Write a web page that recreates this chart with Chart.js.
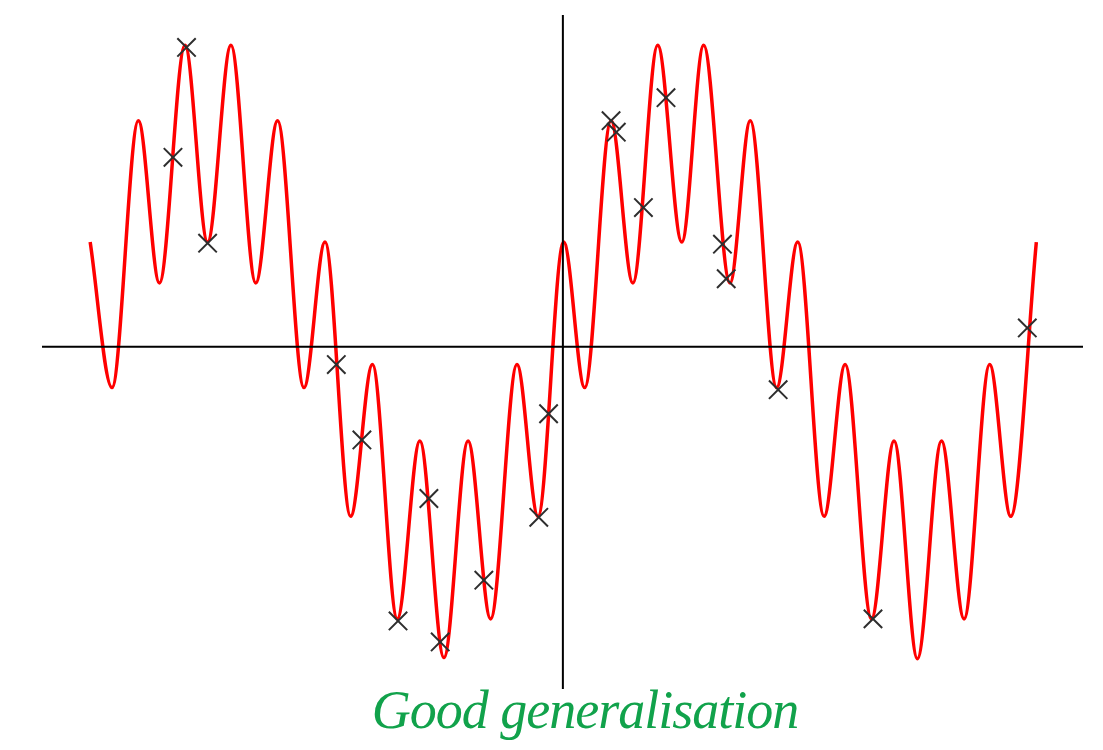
<!DOCTYPE html>
<html>
<head>
<meta charset="utf-8">
<title>Good generalisation</title>
<script src="https://cdn.jsdelivr.net/npm/chart.js@4/dist/chart.umd.min.js"></script>
<style>
  html, body { margin: 0; padding: 0; background: #fff; }
  #wrap { position: relative; width: 1103px; height: 750px; }
  #caption {
    position: absolute; left: 285px; width: 600px; top: 683px;
    text-align: center; font: italic 54px/54px "Liberation Serif", "DejaVu Serif", serif;
    letter-spacing: -1px; color: #11a24b; white-space: nowrap;
  }
</style>
</head>
<body>
<div id="wrap">
  <canvas id="chart"></canvas>
  <div id="caption">Good generalisation</div>
</div>
<script>
// curve: turning points of the red line
const curveX = [-6.28, -5.99, -5.64, -5.36, -5.02, -4.72, -4.41, -4.08, -3.79, -3.44,
                -3.16, -2.82, -2.53, -2.20, -1.90, -1.58, -1.26, -0.96, -0.61, -0.33,
                 0.01,  0.29,  0.64,  0.93,  1.26,  1.58,  1.87,  2.22,  2.49,  2.84,
                 3.12,  3.47,  3.75,  4.10,  4.40,  4.71,  5.03,  5.33,  5.67,  5.95, 6.29];
const curveY = [ 1.00, -0.39,  2.16,  0.61,  2.88,  1.00,  2.88,  0.61,  2.16, -0.39,
                 1.00, -1.62, -0.17, -2.60, -0.90, -2.97, -0.90, -2.60, -0.17, -1.62,
                 1.00, -0.39,  2.16,  0.61,  2.88,  1.00,  2.88,  0.61,  2.16, -0.39,
                 1.00, -1.62, -0.17, -2.60, -0.90, -2.98, -0.90, -2.60, -0.17, -1.62, 1.00];

// training samples (the crosses)
const sampleX = [-5.00, -5.18, -4.72, -3.01, -2.67, -2.19, -1.78, -1.63, -1.05, -0.32,
                 -0.19,  0.64,  0.71,  1.07,  1.37,  2.12,  2.17,  2.86,  4.12,  6.17];
const sampleY = [ 2.86,  1.81,  0.99, -0.17, -0.89, -2.62, -1.45, -2.82, -2.23, -1.63,
                 -0.64,  2.16,  2.05,  1.33,  2.38,  0.98,  0.65, -0.41, -2.60,  0.18];

// axis limits
const xMin = -6.92, xMax = 6.91;
const yMin = -3.27, yMax = 3.17;

const toPoints = (xs, ys) => xs.map((x, i) => ({ x: x, y: ys[i] }));

// axes crossing at the origin, drawn on top of the curve
const originAxes = {
    id: 'originAxes',
    afterDatasetsDraw(chart) {
        const { ctx, chartArea, scales } = chart;
        const x0 = scales.x.getPixelForValue(0);
        const y0 = scales.y.getPixelForValue(0);
        ctx.save();
        ctx.strokeStyle = '#000';
        ctx.lineWidth = 2;
        ctx.beginPath();
        ctx.moveTo(chartArea.left, y0);
        ctx.lineTo(chartArea.right, y0);
        ctx.moveTo(x0, chartArea.top);
        ctx.lineTo(x0, chartArea.bottom);
        ctx.stroke();
        ctx.restore();
    }
};

new Chart(document.getElementById('chart'), {
    type: 'scatter',
    data: {
        datasets: [
            {
                data: toPoints(curveX, curveY),
                showLine: true,
                borderColor: '#ff0000',
                borderWidth: 3.5,
                pointRadius: 0,
                cubicInterpolationMode: 'monotone',
                order: 2
            },
            {
                data: toPoints(sampleX, sampleY),
                showLine: false,
                pointStyle: 'crossRot',
                pointRadius: 13,
                borderColor: '#2e2e2e',
                borderWidth: 2,
                order: 1
            }
        ]
    },
    options: {
        responsive: true,
        maintainAspectRatio: false,
        animation: false,
        layout: { padding: { left: 42, right: 20, top: 12, bottom: 61 } },
        plugins: { legend: { display: false }, tooltip: { enabled: false } },
        scales: {
            x: { type: 'linear', min: xMin, max: xMax, display: false },
            y: { type: 'linear', min: yMin, max: yMax, display: false }
        }
    },
    plugins: [originAxes]
});
</script>
</body>
</html>
